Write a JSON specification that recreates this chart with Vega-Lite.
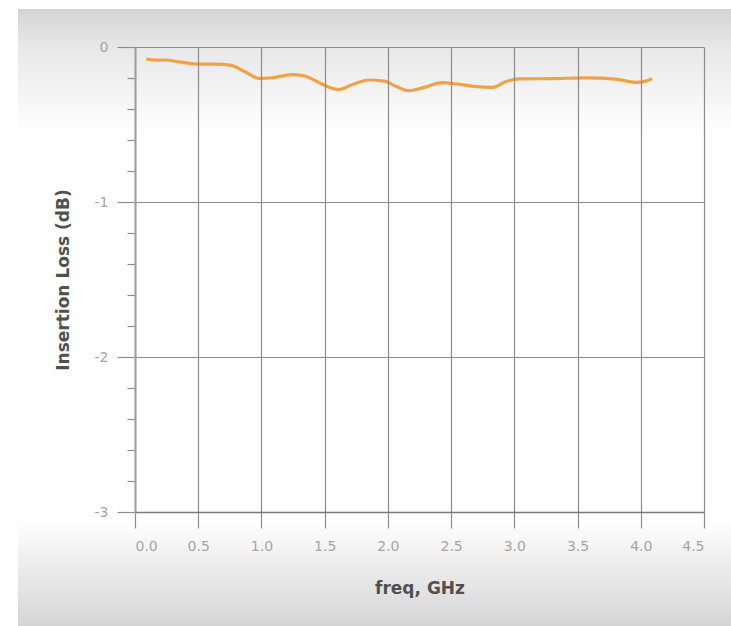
{
  "$schema": "https://vega.github.io/schema/vega-lite/v6.json",
  "autosize": {"type": "none"},
  "width": 569,
  "height": 465,
  "padding": {"left": 135, "top": 47, "right": 27, "bottom": 114},
  "background": "#ffffff",
  "config": {"view": {"stroke": null}},
  "data": {"values": [
    {"freq": 0.09, "loss": -0.078},
    {"freq": 0.17, "loss": -0.085},
    {"freq": 0.24, "loss": -0.084},
    {"freq": 0.34, "loss": -0.095},
    {"freq": 0.49, "loss": -0.110},
    {"freq": 0.63, "loss": -0.111},
    {"freq": 0.76, "loss": -0.118},
    {"freq": 0.87, "loss": -0.160},
    {"freq": 0.98, "loss": -0.202},
    {"freq": 1.07, "loss": -0.200},
    {"freq": 1.16, "loss": -0.188},
    {"freq": 1.24, "loss": -0.178},
    {"freq": 1.33, "loss": -0.185},
    {"freq": 1.47, "loss": -0.235},
    {"freq": 1.55, "loss": -0.265},
    {"freq": 1.61, "loss": -0.275},
    {"freq": 1.72, "loss": -0.242},
    {"freq": 1.85, "loss": -0.213},
    {"freq": 1.97, "loss": -0.220},
    {"freq": 2.07, "loss": -0.256},
    {"freq": 2.16, "loss": -0.282},
    {"freq": 2.28, "loss": -0.262},
    {"freq": 2.43, "loss": -0.230},
    {"freq": 2.54, "loss": -0.238},
    {"freq": 2.70, "loss": -0.256},
    {"freq": 2.83, "loss": -0.260},
    {"freq": 2.93, "loss": -0.224},
    {"freq": 3.04, "loss": -0.206},
    {"freq": 3.30, "loss": -0.204},
    {"freq": 3.57, "loss": -0.199},
    {"freq": 3.80, "loss": -0.207},
    {"freq": 3.96, "loss": -0.228},
    {"freq": 4.04, "loss": -0.220},
    {"freq": 4.09, "loss": -0.204}
  ]},
  "layer": [
    {
      "mark": {"type": "rect", "fill": {"gradient": "linear", "x1": 0, "y1": 0, "x2": 0, "y2": 1,
        "stops": [{"offset": 0, "color": "#d4d4d4"}, {"offset": 0.3, "color": "#e8e8e8"}, {"offset": 1, "color": "#ffffff"}]}},
      "encoding": {
        "x": {"datum": -0.924, "type": "quantitative"},
        "x2": {"datum": 4.75},
        "y": {"datum": 0.245, "type": "quantitative"},
        "y2": {"datum": -0.57}
      }
    },
    {
      "mark": {"type": "rect", "fill": {"gradient": "linear", "x1": 0, "y1": 0, "x2": 0, "y2": 1,
        "stops": [{"offset": 0, "color": "#ffffff"}, {"offset": 1, "color": "#d4d4d4"}]}},
      "encoding": {
        "x": {"datum": -0.924, "type": "quantitative"},
        "x2": {"datum": 4.75},
        "y": {"datum": -3.05, "type": "quantitative"},
        "y2": {"datum": -3.75}
      }
    },
    {
      "mark": {"type": "line", "color": "#f0a245", "strokeWidth": 3.2, "interpolate": "monotone"},
      "encoding": {
        "x": {
          "field": "freq", "type": "quantitative",
          "scale": {"domain": [0, 4.5], "nice": false, "zero": false},
          "axis": {
            "zindex": 1,
            "title": "freq, GHz",
            "values": [0, 0.5, 1, 1.5, 2, 2.5, 3, 3.5, 4, 4.5],
            "tickCount": 20,
            "format": ".1f",
            "labelOverlap": false,
            "grid": true, "gridColor": "#8c8c8c", "gridWidth": 1.2,
            "domain": true, "domainColor": "#7a7a7a", "domainWidth": 1.5,
            "ticks": true, "tickSize": 16, "tickColor": "#8c8c8c", "tickWidth": 1.2,
            "labelPadding": 11, "labelFont": "DejaVu Sans", "labelFontSize": 14, "labelColor": "#a5a5a5",
            "titleFont": "DejaVu Sans", "titleFontSize": 17, "titleFontWeight": "bold", "titleColor": "#505050",
            "titlePadding": 27
          }
        },
        "y": {
          "field": "loss", "type": "quantitative",
          "scale": {"domain": [-3, 0], "nice": false, "zero": false},
          "axis": {
            "zindex": 1,
            "title": "Insertion Loss (dB)",
            "values": [-3, -2.8, -2.6, -2.4, -2.2, -2, -1.8, -1.6, -1.4, -1.2, -1, -0.8, -0.6, -0.4, -0.2, 0],
            "tickCount": 20,
            "labelOverlap": false,
            "labelExpr": "abs(datum.value - round(datum.value)) < 0.001 ? toString(round(datum.value)) : ''",
            "grid": true,
            "gridColor": "#8c8c8c", "gridWidth": 1.2,
            "gridOpacity": {"condition": {"test": "abs(datum.value - round(datum.value)) < 0.001", "value": 1}, "value": 0},
            "domain": true, "domainColor": "#a0a0a0", "domainWidth": 2,
            "ticks": true, "tickColor": "#8c8c8c", "tickWidth": 1.2,
            "tickSize": {"condition": {"test": "abs(datum.value - round(datum.value)) < 0.001", "value": 18}, "value": 8},
            "labelPadding": 9, "labelFont": "DejaVu Sans", "labelFontSize": 14, "labelColor": "#a5a5a5",
            "titleFont": "DejaVu Sans", "titleFontSize": 17, "titleFontWeight": "bold", "titleColor": "#505050",
            "titlePadding": 22
          }
        }
      }
    }
  ]
}
